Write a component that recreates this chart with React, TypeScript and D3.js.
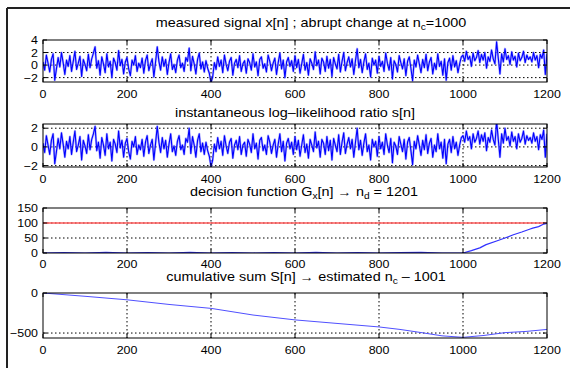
import React from 'react';
import * as d3 from 'd3';

const W = 570;
const H = 368;
const LEFT = 43;
const RIGHT = 547;

const xTicks = [0, 200, 400, 600, 800, 1000, 1200];
const sampleStep = 4; // values below are read every 4th sample

// measured signal x[n]
const signalX = [
  0.5, -0.8, 1.6, 0.3, -1.1, 0.9, 1.8, -2.4, -0.6, 1.2,
  -0.3, 2.0, 0.4, -1.5, 0.8, -0.2, 1.5, -1.0, 0.6, 2.2,
  -0.7, 0.3, 1.4, -1.8, 0.9, 0.1, -0.9, 1.7, -0.4, 1.0,
  1.9, 2.9, -0.5, 0.7, -1.6, 1.3, 0.2, -1.2, 1.8, -0.3,
  0.6, -2.0, 1.1, 0.4, -0.8, 2.3, -0.1, 0.9, -1.4, 0.5,
  1.2, -0.6, -1.7, 0.8, 0.0, 1.5, -1.0, 0.3, -0.4, 1.1,
  -1.3, 0.7, 1.6, -0.9, 0.2, 1.0, -1.9, 0.5, 2.9, 0.6,
  -0.8, 1.3, -0.2, 0.9, -1.5, 0.4, 1.8, -0.7, 0.1, -1.2,
  0.8, 1.6, -0.4, 0.3, -1.0, 1.2, 0.6, 2.7, -0.9, 1.4,
  0.2, -1.4, 0.9, 1.9, -0.6, 0.5, -1.1, 0.7, -0.5, -1.3,
  -2.8, -1.9, 0.4, -0.7, 1.3, -0.2, 0.8, -1.2, 1.6, 0.1,
  -0.9, 0.6, 1.2, -1.6, 0.3, 0.9, -0.4, 1.5, -1.0, 0.2,
  0.7, -1.3, 1.0, 0.4, -0.8, 1.8, -0.3, 0.5, -1.7, 0.9,
  1.3, -0.5, 0.2, -1.1, 1.6, 0.6, -0.9, 0.3, 1.1, -1.5,
  0.4, 1.9, -0.6, 0.8, -2.0, 0.5, 1.2, -0.2, 0.7, -1.0,
  1.5, -0.4, 0.9, -1.3, 0.2, 1.7, -0.8, 0.4, -1.6, 1.0,
  0.3, -0.7, 2.1, -0.1, 0.8, -1.4, 1.1, 0.5, -1.0, 1.4,
  -0.5, 0.9, -1.8, 1.2, 0.2, -0.6, 1.7, -1.1, 0.6, 2.0,
  -0.9, 0.4, 1.3, -0.3, 1.0, -1.5, 0.7, 2.6, -0.4, 0.9,
  -1.2, 0.5, 1.8, -0.7, 0.3, -1.9, 1.1, 0.0, 0.8, -1.3,
  1.4, -0.2, 0.6, -1.0, 1.9, 0.3, -0.8, 1.2, -2.2, 0.7,
  0.1, -1.1, 1.5, 0.4, -0.6, 1.0, -1.7, 0.6, 1.3, -0.5,
  -2.5, 0.8, -0.3, 1.6, 0.2, -1.2, 0.9, -0.4, 1.7, -0.9,
  0.5, 1.2, -1.4, 0.3, -0.7, 1.8, -0.2, 0.6, -1.6, 1.0,
  -2.4, 0.4, 1.1, -0.8, 1.5, -0.3, 0.7, -1.2, 0.2, 1.3,
  1.6, 0.6, 2.2, 0.9, 1.4, -0.2, 1.9, 0.7, 1.2, 2.3,
  0.4, 1.7, 0.8, 2.0, -0.5, 1.3, 0.6, 2.4, 1.0, 0.2,
  3.7, 1.1, -1.4, 1.8, 0.5, 2.6, 0.9, 1.5, 0.1, 2.1,
  0.8, 1.4, -0.3, 1.9, 0.7, 1.2, 2.2, 0.4, 1.6, 0.9,
  1.3, 0.5, 2.0, 0.8, 1.5, -0.4, 1.7, 1.1, 2.4, -1.5,
  1.8,
];

// instantaneous log-likelihood ratio s[n]
const signalS = [
  0.4, -0.6, 1.2, 0.2, -0.8, 0.7, 1.4, -1.8, -0.5, 0.9,
  -0.2, 1.5, 0.3, -1.1, 0.6, -0.2, 1.1, -0.8, 0.5, 1.7,
  -0.5, 0.2, 1.1, -1.4, 0.7, 0.1, -0.7, 1.3, -0.3, 0.8,
  1.4, 2.2, -0.4, 0.5, -1.2, 1.0, 0.2, -0.9, 1.4, -0.2,
  0.5, -1.5, 0.8, 0.3, -0.6, 1.7, -0.1, 0.7, -1.1, 0.4,
  0.9, -0.5, -1.3, 0.6, 0.0, 1.1, -0.8, 0.2, -0.3, 0.8,
  -1.0, 0.5, 1.2, -0.7, 0.2, 0.8, -1.4, 0.4, 2.2, 0.5,
  -0.6, 1.0, -0.2, 0.7, -1.1, 0.3, 1.4, -0.5, 0.1, -0.9,
  0.6, 1.2, -0.3, 0.2, -0.8, 0.9, 0.5, 2.0, -0.7, 1.1,
  0.2, -1.1, 0.7, 1.4, -0.5, 0.4, -0.8, 0.5, -0.4, -1.0,
  -2.1, -1.4, 0.3, -0.5, 1.0, -0.2, 0.6, -0.9, 1.2, 0.1,
  -0.7, 0.5, 0.9, -1.2, 0.2, 0.7, -0.3, 1.1, -0.8, 0.2,
  0.5, -1.0, 0.8, 0.3, -0.6, 1.4, -0.2, 0.4, -1.3, 0.7,
  1.0, -0.4, 0.2, -0.8, 1.2, 0.5, -0.7, 0.2, 0.8, -1.1,
  0.3, 1.4, -0.5, 0.6, -1.5, 0.4, 0.9, -0.2, 0.5, -0.8,
  1.1, -0.3, 0.7, -1.0, 0.2, 1.3, -0.6, 0.3, -1.2, 0.8,
  0.2, -0.5, 1.6, -0.1, 0.6, -1.1, 0.8, 0.4, -0.8, 1.1,
  -0.4, 0.7, -1.4, 0.9, 0.2, -0.5, 1.3, -0.8, 0.5, 1.5,
  -0.7, 0.3, 1.0, -0.2, 0.8, -1.1, 0.5, 2.0, -0.3, 0.7,
  -0.9, 0.4, 1.4, -0.5, 0.2, -1.4, 0.8, 0.0, 0.6, -1.0,
  1.1, -0.2, 0.5, -0.8, 1.4, 0.2, -0.6, 0.9, -1.7, 0.5,
  0.1, -0.8, 1.1, 0.3, -0.5, 0.8, -1.3, 0.5, 1.0, -0.4,
  -1.9, 0.6, -0.2, 1.2, 0.2, -0.9, 0.7, -0.3, 1.3, -0.7,
  0.4, 0.9, -1.1, 0.2, -0.5, 1.4, -0.2, 0.5, -1.2, 0.8,
  -1.8, 0.3, 0.8, -0.6, 1.1, -0.2, 0.5, -0.9, 0.2, 1.0,
  1.2, 0.5, 1.7, 0.7, 1.1, -0.2, 1.4, 0.5, 0.9, 1.7,
  0.3, 1.3, 0.6, 1.5, -0.4, 1.0, 0.5, 1.8, 0.8, 0.2,
  2.8, 0.8, -1.1, 1.4, 0.4, 2.0, 0.7, 1.1, 0.1, 1.6,
  0.6, 1.1, -0.2, 1.4, 0.5, 0.9, 1.7, 0.3, 1.2, 0.7,
  1.0, 0.4, 1.5, 0.6, 1.1, -0.3, 1.3, 0.8, 1.8, -1.1,
  1.4,
];

// decision function G_x[n]
const decisionN = [0, 50, 100, 150, 200, 250, 300, 350, 400, 450, 500, 550, 600, 650, 700, 750, 800, 850, 900, 950, 1000,
  1020, 1040, 1055, 1080, 1100, 1120, 1140, 1160, 1166, 1180, 1190, 1200];
const decisionG = [0, 1, 0, 2, 0, 1, 0, 2, 0, 1, 0, 1, 0, 2, 0, 1, 0, 1, 2, 0, 0,
  8, 17, 28, 40, 50, 61, 70, 80, 83, 88, 95, 99];
const threshold = 100;

// cumulative sum S[n]
const cusumN = [0, 100, 200, 300, 400, 500, 600, 700, 800, 850, 900, 950, 1000, 1050, 1100, 1150, 1200];
const cusumS = [0, -41, -85, -143, -192, -275, -336, -380, -424, -455, -494, -535, -554, -530, -495, -480, -455];

const FONT = '"Liberation Sans", Arial, Helvetica, sans-serif';

type PanelProps = {
  id: string;
  top: number;
  bottom: number;
  domain: [number, number];
  yTicks: number[];
  ns: number[];
  vs: number[];
  stroke: string;
  strokeWidth: number;
  halo?: boolean;
  hline?: number;
  labelGap?: number;
};

function Panel({ id, top, bottom, domain, yTicks, ns, vs, stroke, strokeWidth, halo, hline, labelGap = 15.5 }: PanelProps) {
  const x = d3.scaleLinear().domain([0, 1200]).range([LEFT, RIGHT]);
  const y = d3.scaleLinear().domain(domain).range([bottom, top]);
  const line = d3.line<number>().x((_, i) => x(ns[i])).y(v => y(v));
  const tickLen = 4;
  const d = line(vs) || '';

  return (
    <g>
      <defs>
        <clipPath id={id}>
          <rect x={LEFT} y={top} width={RIGHT - LEFT} height={bottom - top} />
        </clipPath>
      </defs>
      {/* grid */}
      {xTicks.slice(1, -1).map(t => (
        <line key={'gx' + t} x1={x(t)} x2={x(t)} y1={top} y2={bottom}
          stroke="#000" strokeWidth={1} strokeDasharray="1.5,2.5" />
      ))}
      {yTicks.filter(t => y(t) > top + 1 && y(t) < bottom - 1).map(t => (
        <line key={'gy' + t} x1={LEFT} x2={RIGHT} y1={y(t)} y2={y(t)}
          stroke="#000" strokeWidth={1} strokeDasharray="1.5,2.5" />
      ))}
      <g clipPath={`url(#${id})`}>
        {hline !== undefined && (
          <line x1={LEFT} x2={RIGHT} y1={y(hline)} y2={y(hline)} stroke="#ff5a5a" strokeWidth={1.4} />
        )}
        {halo && <path d={d} fill="none" stroke="#7f7fff" strokeWidth={2.3} strokeOpacity={0.6} strokeLinejoin="round" />}
        <path d={d} fill="none" stroke={stroke} strokeWidth={strokeWidth} strokeLinejoin="round" />
      </g>
      {/* box and ticks */}
      <rect x={LEFT} y={top} width={RIGHT - LEFT} height={bottom - top} fill="none" stroke="#000" strokeWidth={1} />
      {xTicks.map(t => (
        <g key={'tx' + t}>
          <line x1={x(t)} x2={x(t)} y1={bottom} y2={bottom - tickLen} stroke="#000" />
          <line x1={x(t)} x2={x(t)} y1={top} y2={top + tickLen} stroke="#000" />
          <text transform={`translate(${x(t)},${bottom + labelGap}) scale(1.08,1)`} textAnchor="middle"
            fontSize={11.5} fontFamily={FONT} fill="#000">{t}</text>
        </g>
      ))}
      {yTicks.map(t => (
        <g key={'ty' + t}>
          <line x1={LEFT} x2={LEFT + tickLen} y1={y(t)} y2={y(t)} stroke="#000" />
          <line x1={RIGHT} x2={RIGHT - tickLen} y1={y(t)} y2={y(t)} stroke="#000" />
          <text transform={`translate(${LEFT - 5},${y(t) + 4}) scale(1.08,1)`} textAnchor="end"
            fontSize={11.5} fontFamily={FONT} fill="#000">
            {t < 0 ? '\u2212' + Math.abs(t) : t}
          </text>
        </g>
      ))}
    </g>
  );
}

const Sub = ({ children }: { children: React.ReactNode }) => (
  <tspan dy={3} fontSize={8.5}>{children}</tspan>
);

const Title = ({ cx, y, children }: { cx: number; y: number; children: React.ReactNode }) => (
  <text transform={`translate(${cx},${y}) scale(1.2,1)`} textAnchor="middle" fontSize={12}
    fontFamily={FONT} fill="#000">{children}</text>
);

export default function App() {
  const nSamples = signalX.map((_, i) => i * sampleStep);
  return (
    <svg width={W} height={H} style={{ position: 'absolute', left: 0, top: 0, background: '#fff' }}>
      <rect x={0} y={0} width={W} height={H} fill="#fff" />
      {/* outer frame */}
      <line x1={7} x2={W} y1={8} y2={8} stroke="#222" strokeWidth={2} />
      <line x1={7} x2={7} y1={8} y2={H} stroke="#222" strokeWidth={2} />

      <Title cx={311} y={27}>
        measured signal x[n] ; abrupt change at n<Sub>c</Sub><tspan dy={-3}>=1000</tspan>
      </Title>
      <Panel id="c1" top={40} bottom={82} domain={[-2.7, 4]} yTicks={[-2, 0, 2, 4]}
        ns={nSamples} vs={signalX} stroke="#0000ff" strokeWidth={1.1} halo />

      <Title cx={295} y={117}>instantaneous log–likelihood ratio s[n]</Title>
      <Panel id="c2" top={124} bottom={167} domain={[-2.15, 2.45]} yTicks={[-2, 0, 2]}
        ns={nSamples} vs={signalS} stroke="#0000ff" strokeWidth={1.1} halo />

      <Title cx={304} y={196}>
        decision function G<Sub>x</Sub><tspan dy={-3}>[n] →  n</tspan><Sub>d</Sub><tspan dy={-3}> = 1201</tspan>
      </Title>
      <Panel id="c3" top={208} bottom={253} domain={[0, 150]} yTicks={[0, 50, 100, 150]}
        ns={decisionN} vs={decisionG} stroke="#3030ff" strokeWidth={1.2} hline={threshold} labelGap={14.5} />

      <Title cx={306} y={281}>
        cumulative sum S[n] →  estimated n<Sub>c</Sub><tspan dy={-3}> – 1001</tspan>
      </Title>
      <Panel id="c4" top={293} bottom={338} domain={[-562, 0]} yTicks={[-500, 0]}
        ns={cusumN} vs={cusumS} stroke="#5050ff" strokeWidth={1} />
    </svg>
  );
}
